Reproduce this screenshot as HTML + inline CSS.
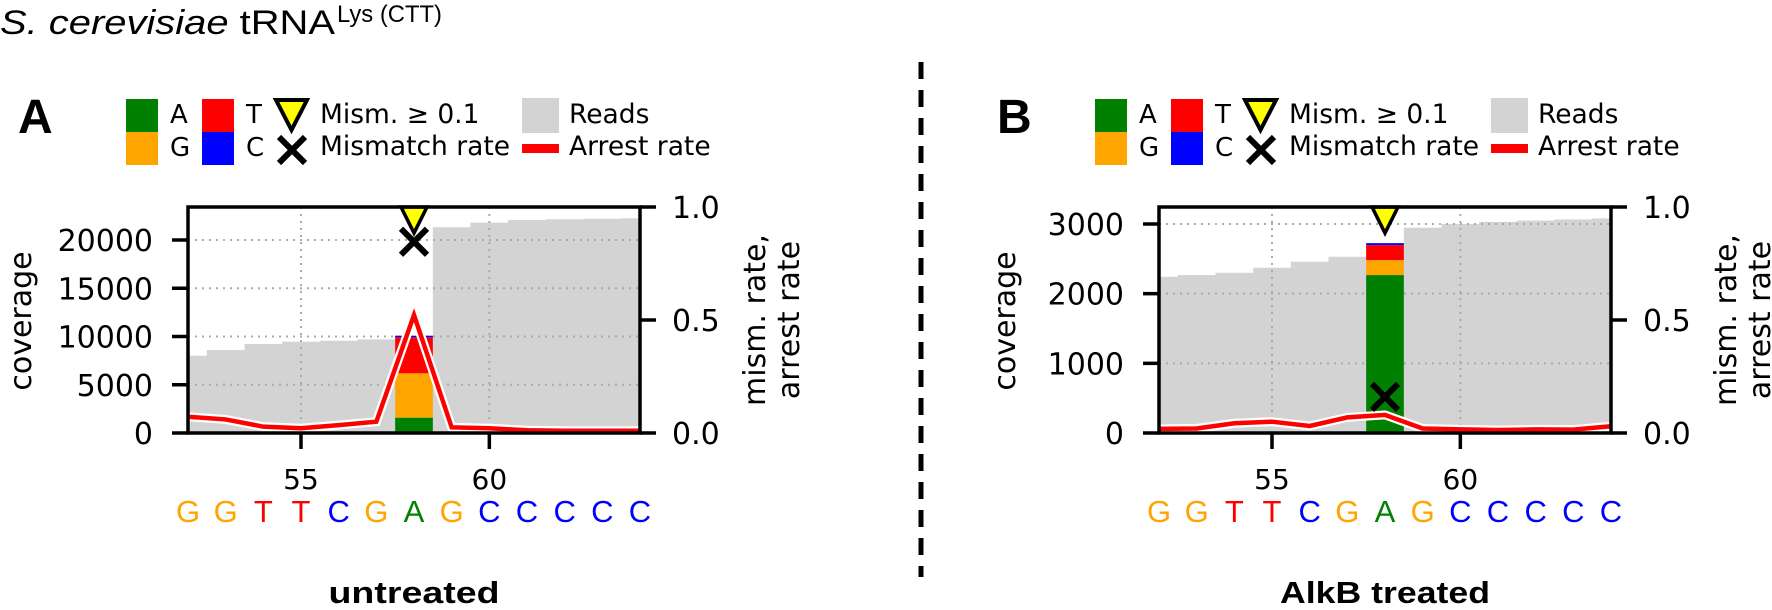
<!DOCTYPE html>
<html><head><meta charset="utf-8"><title>tRNA Lys mismatch chart</title>
<style>
html,body{margin:0;padding:0;background:#fff;}
svg{display:block;}
text{font-family:"DejaVu Sans","Liberation Sans",sans-serif;}
.cal{font-family:"Liberation Sans",sans-serif;}
</style></head>
<body>
<svg id="fig" width="1772" height="610" viewBox="0 0 1772 610" xmlns="http://www.w3.org/2000/svg">
  <text class="cal" x="0" y="34" font-size="34" textLength="335" lengthAdjust="spacingAndGlyphs"><tspan font-style="italic">S. cerevisiae</tspan> tRNA</text>
  <text class="cal" x="337" y="22" font-size="24" textLength="105" lengthAdjust="spacingAndGlyphs">Lys (CTT)</text>
  <line x1="921" y1="62" x2="921" y2="577" stroke="#000" stroke-width="5" stroke-dasharray="17,11"/>
</svg>
<script>
const positions = [52,53,54,55,56,57,58,59,60,61,62,63,64];
const seq = ['G','G','T','T','C','G','A','G','C','C','C','C','C'];
const readsA = [8010,8600,9220,9460,9560,9700,10080,21320,21800,22070,22150,22200,22250];
const readsB = [2242,2267,2300,2372,2458,2530,2725,2946,3000,3030,3050,3065,3080];
const stackNucs = ['A','G','T','C'];
const stackValsA = [1590,4600,3730,160];
const stackValsB = [2267,215,215,28];
const mismPosA = 58;
const mismPosB = 58;
const mismRateA = 0.846;
const mismRateB = 0.16;
const arrestA = [0.072,0.06,0.028,0.021,0.035,0.05,0.522,0.025,0.021,0.012,0.01,0.01,0.01];
const arrestB = [0.018,0.02,0.043,0.05,0.031,0.069,0.08,0.02,0.016,0.013,0.016,0.015,0.03];
const yTicksA = [0,5000,10000,15000,20000];
const yTicksB = [0,1000,2000,3000];
const xTicks = [55,60];
const rateTicks = [0,0.5,1.0];
const rateTickLabels = ['0.0','0.5','1.0'];

const NS = 'http://www.w3.org/2000/svg';
const svg = document.getElementById('fig');
const COL = {A:'#008000',G:'#ffa500',T:'#ff0000',C:'#0000ff'};

function mk(tag, attrs, parent){
  const e = document.createElementNS(NS, tag);
  for (const k in attrs) e.setAttribute(k, attrs[k]);
  (parent||svg).appendChild(e);
  return e;
}

function panel(o){
  const dx = o.dx;
  const L = 188+dx, R = 640+dx, T = 207, B = 433;
  const xs = p => L + (p-52)*(R-L)/12;
  const yc = v => B - v*(B-T)/o.ymax;
  const yr = r => B - r*(B-T);
  const g = mk('g', {});
  
  

  const cp = mk('clipPath', {id:'clip'+o.name}, g);
  mk('rect', {x:L, y:T, width:R-L, height:B-T}, cp);
  const plot = mk('g', {'clip-path':'url(#clip'+o.name+')'}, g);
  
  

  positions.forEach((p,i)=>{
    const r = mk('rect', {x:xs(p-0.5), y:yc(o.reads[i]), width:xs(p+0.5)-xs(p-0.5)+0.5, height:B-yc(o.reads[i]), fill:'#d3d3d3'}, plot);
    
    
  });
  o.yticks.forEach(v=>{
    if (v===0) return;
    const l = mk('line', {x1:L, x2:R, y1:yc(v), y2:yc(v), stroke:'#aaa', 'stroke-width':2, 'stroke-dasharray':'2,5'}, plot);
    
    
  });
  xTicks.forEach(v=>{
    const l = mk('line', {x1:xs(v), x2:xs(v), y1:T, y2:B, stroke:'#aaa', 'stroke-width':2, 'stroke-dasharray':'2,5'}, plot);
    
    
  });
  let acc = 0;
  stackNucs.forEach((n,i)=>{
    const v = o.stack[i];
    const r = mk('rect', {x:xs(o.mpos-0.5), y:yc(acc+v), width:xs(o.mpos+0.5)-xs(o.mpos-0.5), height:yc(acc)-yc(acc+v), fill:COL[n]}, plot);
    
    
    acc += v;
  });
  const pts = positions.map((p,i)=>xs(p)+','+yr(o.arrest[i])).join(' ');
  const w = mk('polyline', {points:pts, fill:'none', stroke:'#fff', 'stroke-width':9, 'stroke-linejoin':'miter'}, plot);
  
  
  const ln = mk('polyline', {points:pts, fill:'none', stroke:'#ff0000', 'stroke-width':4.5, 'stroke-linejoin':'miter'}, plot);
  
  
  const mx = xs(o.mpos), my = yr(o.mrate);
  const xg = mk('g', {stroke:'#000', 'stroke-width':6}, g);
  
  
  mk('line', {x1:mx-13, y1:my-13, x2:mx+13, y2:my+13}, xg);
  mk('line', {x1:mx-13, y1:my+13, x2:mx+13, y2:my-13}, xg);
  const ty = yr(0.96);
  const tri = mk('polygon', {points:(mx-13)+','+(ty-9)+' '+(mx+13)+','+(ty-9)+' '+mx+','+(ty+17), fill:'#ffff00', stroke:'#000', 'stroke-width':3.5}, g);
  
  

  const fr = mk('rect', {x:L, y:T, width:R-L, height:B-T, fill:'none', stroke:'#000', 'stroke-width':3.5}, g);
  
  

  o.yticks.forEach(v=>{
    mk('line', {x1:L-16, x2:L, y1:yc(v), y2:yc(v), stroke:'#000', 'stroke-width':3.5}, g);
    const t = mk('text', {x:L-35, y:yc(v)+11, 'font-size':30, 'text-anchor':'end'}, g);
    t.textContent = String(v);
    
    
  });
  rateTicks.forEach((v,i)=>{
    mk('line', {x1:R, x2:R+16, y1:yr(v), y2:yr(v), stroke:'#000', 'stroke-width':3.5}, g);
    const t = mk('text', {x:R+32, y:yr(v)+11, 'font-size':30}, g);
    t.textContent = rateTickLabels[i];
    
    
  });
  xTicks.forEach(v=>{
    mk('line', {x1:xs(v), x2:xs(v), y1:B, y2:B+16, stroke:'#000', 'stroke-width':3.5}, g);
    const t = mk('text', {x:xs(v), y:489, 'font-size':28, 'text-anchor':'middle'}, g);
    t.textContent = String(v);
    
    
  });
  positions.forEach((p,i)=>{
    const t = mk('text', {x:xs(p), y:522, 'font-size':31, 'text-anchor':'middle', fill:COL[seq[i]], class:'cal'}, g);
    t.textContent = seq[i];
    
    
  });
  const cl = mk('text', {x:0, y:0, 'font-size':30, 'text-anchor':'middle', transform:'translate('+o.covX+',321) rotate(-90)'}, g);
  cl.textContent = 'coverage';
  
  
  const r1 = mk('text', {x:0, y:0, 'font-size':30, 'text-anchor':'middle', transform:'translate('+(R+125)+',320) rotate(-90)'}, g);
  r1.textContent = 'mism. rate,';
  
  
  const r2 = mk('text', {x:0, y:0, 'font-size':30, 'text-anchor':'middle', transform:'translate('+(R+159)+',320) rotate(-90)'}, g);
  r2.textContent = 'arrest rate';
  
  
  const cap = mk('text', {x:414+dx, y:603, 'font-size':31, 'font-weight':'bold', 'text-anchor':'middle', class:'cal', textLength:o.capW, lengthAdjust:'spacingAndGlyphs'}, g);
  cap.textContent = o.caption;
  
  
  const pl = mk('text', {x:18+dx+o.letterShift, y:133, 'font-size':48, 'font-weight':'bold', class:'cal'}, g);
  pl.textContent = o.letter;
  
  

  const lx = o.ldx;
  const lg = mk('g', {}, g);
  
  
  const sw = [['A',126,99],['G',126,132],['T',202,99],['C',202,132]];
  sw.forEach(s=>{
    const r = mk('rect', {x:s[1]+lx, y:s[2], width:32, height:33, fill:COL[s[0]]}, lg);
    
    
    const t = mk('text', {x:s[1]+lx+44, y:s[2]+24, 'font-size':26}, lg);
    t.textContent = s[0];
    
    
  });
  mk('polygon', {points:(276+lx)+',100 '+(307+lx)+',100 '+(291.5+lx)+',130', fill:'#ffff00', stroke:'#000', 'stroke-width':4}, lg);
  const lxg = mk('g', {stroke:'#000', 'stroke-width':6}, lg);
  mk('line', {x1:279+lx, y1:137, x2:305+lx, y2:163}, lxg);
  mk('line', {x1:279+lx, y1:163, x2:305+lx, y2:137}, lxg);
  const t1 = mk('text', {x:320+lx, y:123, 'font-size':26.5}, lg);
  t1.textContent = 'Mism. \u2265  0.1';
  
  
  const t2 = mk('text', {x:320+lx, y:155, 'font-size':26.5}, lg);
  t2.textContent = 'Mismatch rate';
  
  
  mk('rect', {x:522+lx, y:98, width:37, height:35, fill:'#d3d3d3'}, lg);
  mk('rect', {x:522+lx, y:144, width:37, height:9, fill:'#ff0000'}, lg);
  const t3 = mk('text', {x:569+lx, y:123, 'font-size':26.5}, lg);
  t3.textContent = 'Reads';
  
  
  const t4 = mk('text', {x:569+lx, y:155, 'font-size':26.5}, lg);
  t4.textContent = 'Arrest rate';
  
  
}

panel({name:'untreated', dx:0, ldx:0, ymax:23420, reads:readsA, stack:stackValsA, mpos:mismPosA, mrate:mismRateA, arrest:arrestA, yticks:yTicksA, covX:31, caption:'untreated', capW:171, letter:'A', letterShift:0});
panel({name:'alkb', dx:971, ldx:969, ymax:3244, reads:readsB, stack:stackValsB, mpos:mismPosB, mrate:mismRateB, arrest:arrestB, yticks:yTicksB, covX:1015, caption:'AlkB treated', capW:210, letter:'B', letterShift:8});
</script>
</body></html>
